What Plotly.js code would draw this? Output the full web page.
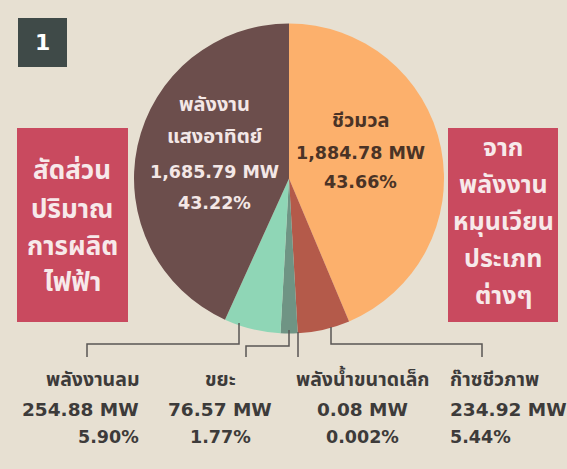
<!DOCTYPE html>
<html><head><meta charset="utf-8">
<script src="https://cdn.plot.ly/plotly-3.0.1.min.js"></script>
<style>html,body{margin:0;padding:0;background:#e7e0d2}</style>
</head><body><div id="chart" style="width:567px;height:469px"></div>
<script>
// ---- data ----
const categories = ["ชีวมวล","ก๊าซชีวภาพ","พลังน้ำขนาดเล็ก","ขยะ","พลังงานลม","พลังงานแสงอาทิตย์"];
const nameLines = [["ชีวมวล"],["ก๊าซชีวภาพ"],["พลังน้ำขนาดเล็ก"],["ขยะ"],["พลังงานลม"],["พลังงาน","แสงอาทิตย์"]];
const capacityMW = ["1,884.78","234.92","0.08","76.57","254.88","1,685.79"];
const sharePct = [43.66, 5.44, 0.002, 1.77, 5.90, 43.22];
const shareText = ["43.66%","5.44%","0.002%","1.77%","5.90%","43.22%"];
const sliceColors = ["#fcb06c","#b45a4a","#7d8f80","#6f9484","#8fd6b6","#6c4e4c"];
const leftBoxLines = ["สัดส่วน","ปริมาณ","การผลิต","ไฟฟ้า"];
const rightBoxLines = ["จาก","พลังงาน","หมุนเวียน","ประเภท","ต่างๆ"];
const badgeText = "1";

// ---- layout helpers ----
const W = 567, H = 469;
const px = x => x / W;
const py = y => 1 - y / H;
const THAI = "'Noto Sans Thai', 'Noto Sans', 'DejaVu Sans', sans-serif";
const NUM = "'DejaVu Sans', 'Noto Sans Thai', sans-serif";

const ann = [];
function addText(text, x, y, size, color, xanchor, family) {
  ann.push({text: "<b>" + text + "</b>", x: px(x), y: py(y), xref: "paper", yref: "paper",
    showarrow: false, xanchor: xanchor || "center", yanchor: "middle",
    font: {family: family || THAI, size: size, color: color}});
}

// inside-pie labels (solar index 5, biomass index 0)
const inside = [
  {i: 5, x: 214, ys: [105, 137, 172, 203], color: "#f3e7e6"},
  {i: 0, x: 360, ys: [121, 153, 182], color: "#4a3326"}
];
inside.forEach(c => {
  const n = nameLines[c.i].length;
  const lines = nameLines[c.i].concat([capacityMW[c.i] + " MW", shareText[c.i]]);
  lines.forEach((t, k) => addText(t, c.x, c.ys[k], k < n ? 20 : 17.5, c.color, "center", k < n ? THAI : NUM));
});

// bottom labels
const bottom = [
  {i: 4, x: 141, anchor: "right"},
  {i: 3, x: 220, anchor: "center"},
  {i: 2, x: 362, anchor: "center"},
  {i: 1, x: 448, anchor: "left"}
];
bottom.forEach(c => {
  addText(nameLines[c.i][0], c.x, 380, 19.5, "#3d3b3a", c.anchor, THAI);
  addText(capacityMW[c.i] + " MW", c.x, 409, 18.5, "#3d3b3a", c.anchor, NUM);
  addText(shareText[c.i], c.x, 437, 17.5, "#3d3b3a", c.anchor, NUM);
});

// side boxes
leftBoxLines.forEach((t, k) => addText(t, 72, [171, 210, 247, 283][k], 26, "#f7e9ea", "center", THAI));
rightBoxLines.forEach((t, k) => addText(t, 503, [148, 185, 222, 259, 296][k], 25, "#f7e9ea", "center", THAI));
addText(badgeText, 42, 42, 22, "#ffffff", "center", NUM);

const lineStyle = {color: "#5a5654", width: 1.5};
const path = pts => "M " + pts.map(p => px(p[0]) + "," + py(p[1])).join(" L ");
const shapes = [
  {type: "rect", xref: "paper", yref: "paper", x0: px(17), x1: px(128), y0: py(128), y1: py(322), fillcolor: "#c94a5f", line: {width: 0}, layer: "below"},
  {type: "rect", xref: "paper", yref: "paper", x0: px(448), x1: px(558), y0: py(128), y1: py(322), fillcolor: "#c94a5f", line: {width: 0}, layer: "below"},
  {type: "rect", xref: "paper", yref: "paper", x0: px(18), x1: px(67), y0: py(18), y1: py(67), fillcolor: "#3f4a48", line: {width: 0}, layer: "below"},
  {type: "path", xref: "paper", yref: "paper", path: path([[239,323],[239,344],[87,344],[87,357]]), line: lineStyle},
  {type: "path", xref: "paper", yref: "paper", path: path([[289,330],[289,346],[246,346],[246,357]]), line: lineStyle},
  {type: "path", xref: "paper", yref: "paper", path: path([[298,332],[298,357]]), line: lineStyle},
  {type: "path", xref: "paper", yref: "paper", path: path([[331,327],[331,344],[482,344],[482,357]]), line: lineStyle}
];

const trace = {
  type: "pie",
  labels: categories,
  values: sharePct,
  sort: false,
  direction: "clockwise",
  rotation: 0,
  marker: {colors: sliceColors, line: {width: 0}},
  textinfo: "none",
  hoverinfo: "label+value",
  domain: {x: [px(289 - 155), px(289 + 155)], y: [py(333.5), py(23.5)]},
  showlegend: false
};

Plotly.newPlot("chart", [trace], {
  width: W, height: H,
  margin: {l: 0, r: 0, t: 0, b: 0},
  paper_bgcolor: "#e7e0d2",
  plot_bgcolor: "#e7e0d2",
  showlegend: false,
  annotations: ann,
  shapes: shapes
}, {displayModeBar: false, staticPlot: true});
</script></body></html>
